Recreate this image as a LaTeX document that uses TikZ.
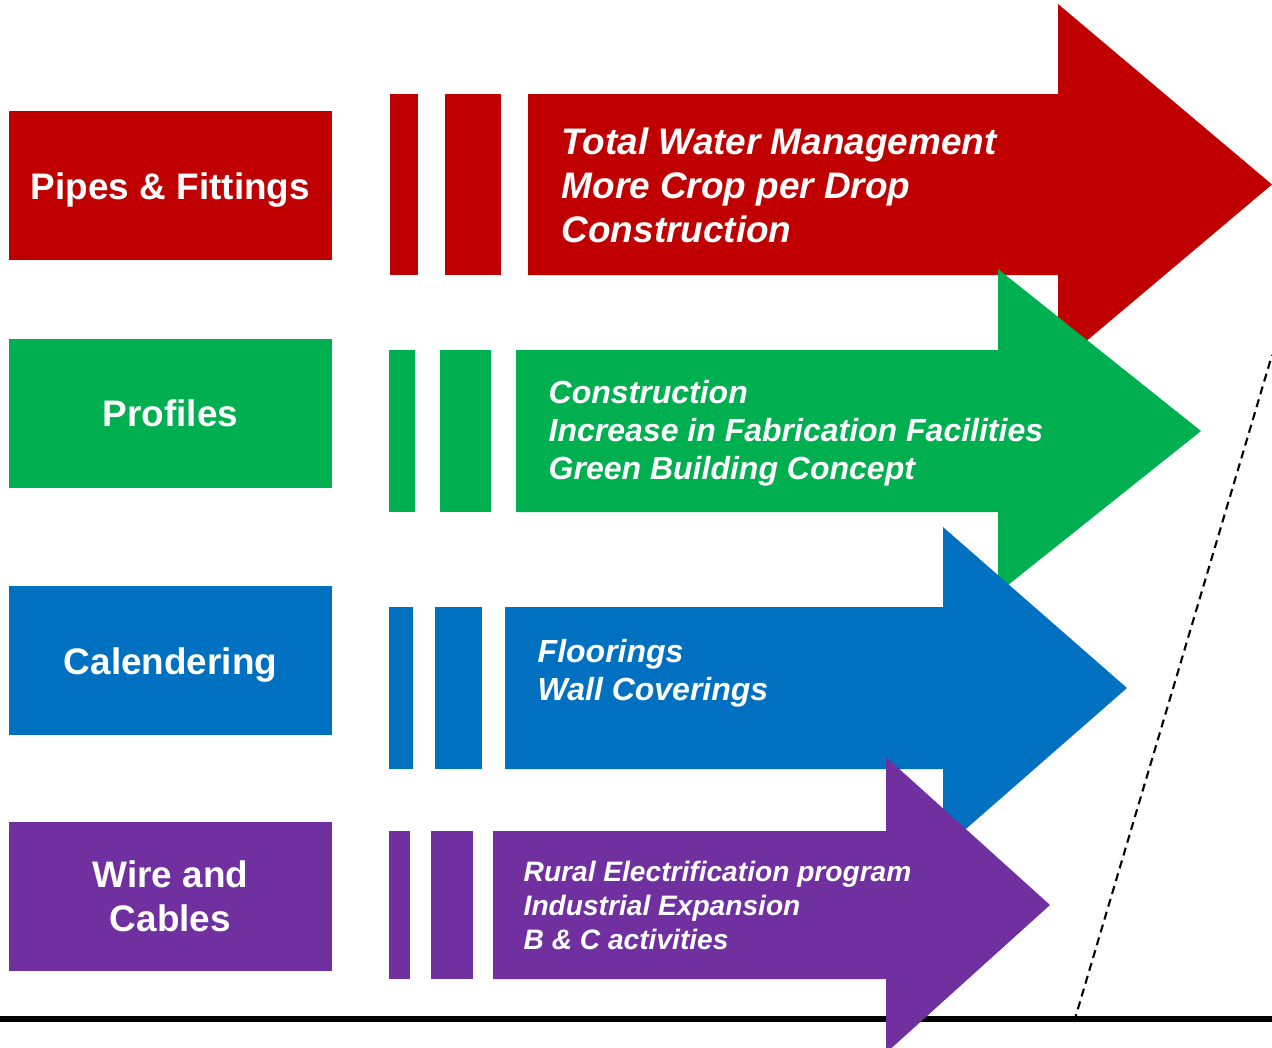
\documentclass[tikz,border=0pt]{standalone}
\usepackage{fontspec}
\setmainfont{Liberation Sans}
\usetikzlibrary{positioning}

\definecolor{redc}{HTML}{C00000}
\definecolor{greenc}{HTML}{00B050}
\definecolor{bluec}{HTML}{0070C0}
\definecolor{purplec}{HTML}{7030A0}

\begin{document}
\begin{tikzpicture}[x=0.01cm,y=-0.01cm,
    catbox/.style={rectangle, minimum width=3.23cm, minimum height=1.49cm, inner sep=0pt,
      text=white, align=center, font=\fontsize{10.5}{12.5}\selectfont\bfseries},
    bar/.style={rectangle, inner sep=0pt},
    arrtext/.style={anchor=west, inner sep=0pt, align=left, text=white},
    bigtext/.style={font=\fontsize{10.5}{12.5}\selectfont\bfseries\itshape},
    midtext/.style={font=\fontsize{9.1}{10.8}\selectfont\bfseries\itshape},
    smalltext/.style={font=\fontsize{8}{9.7}\selectfont\bfseries\itshape}]
  \useasboundingbox (0,0) rectangle (1272,1048);
  % base line and dashed limit
  \coordinate (baseL) at (0,1019);
  \coordinate (baseR) at (1272,1019);
  \coordinate (limB) at (1074,1022);
  \coordinate (limT) at (1272,355);
  \draw[line width=1.5pt] (baseL) -- (baseR);
  \draw[line width=0.6pt, dash pattern=on 2.3pt off 1.5pt] (limB) -- (limT);

  % pipes
  \fill[redc] (9,111) rectangle (332,260);
  \node[catbox, minimum height=0pt] (pipes) at (170.5,190) {Pipes \& Fittings};
  \node[bar, fill=redc, minimum width=0.28cm, minimum height=1.81cm] (pipesA) at (404,184.5) {};
  \node[bar, fill=redc, minimum width=0.56cm, minimum height=1.81cm] (pipesB) at (473,184.5) {};
  \fill[redc] (528,94) -- (1058,94) -- (1058,4) -- (1272,184.5) -- (1058,365) -- (1058,275) -- (528,275) -- cycle;
  \node[arrtext, bigtext] (pipestxt) at (561,185.5) {Total Water Management\\More Crop per Drop\\Construction};

  % profiles
  \node[catbox, fill=greenc] (profiles) at (170.5,413.5) {Profiles};
  \node[bar, fill=greenc, minimum width=0.26cm, minimum height=1.62cm] (profA) at (402,431) {};
  \node[bar, fill=greenc, minimum width=0.51cm, minimum height=1.62cm] (profB) at (465.5,431) {};
  \fill[greenc] (516,350) -- (998,350) -- (998,269) -- (1201,431) -- (998,593) -- (998,512) -- (516,512) -- cycle;
  \node[arrtext, midtext] (proftxt) at (548,433) {Construction\\Increase in Fabrication Facilities\\Green Building Concept};

  % calendering
  \fill[bluec] (9,586) rectangle (332,735);
  \node[catbox, minimum height=0pt] (calend) at (170.5,665) {Calendering};
  \node[bar, fill=bluec, minimum width=0.24cm, minimum height=1.62cm] (calA) at (401,688) {};
  \node[bar, fill=bluec, minimum width=0.47cm, minimum height=1.62cm] (calB) at (458.5,688) {};
  \fill[bluec] (505,607) -- (943,607) -- (943,527) -- (1127,688) -- (943,849) -- (943,769) -- (505,769) -- cycle;
  \node[arrtext, midtext] (caltxt) at (537,673) {Floorings\\Wall Coverings};

  % wire and cables
  \node[catbox, fill=purplec] (wire) at (170.5,896.5) {Wire and\\Cables};
  \node[bar, fill=purplec, minimum width=0.21cm, minimum height=1.48cm] (wireA) at (399.5,905) {};
  \node[bar, fill=purplec, minimum width=0.42cm, minimum height=1.48cm] (wireB) at (452,905) {};
  \fill[purplec] (493,831) -- (886,831) -- (886,757) -- (1050,905) -- (886,1053) -- (886,979) -- (493,979) -- cycle;
  \node[arrtext, smalltext] (wiretxt) at (523,905.5) {Rural Electrification program\\Industrial Expansion\\B \& C activities};
\end{tikzpicture}
\end{document}
